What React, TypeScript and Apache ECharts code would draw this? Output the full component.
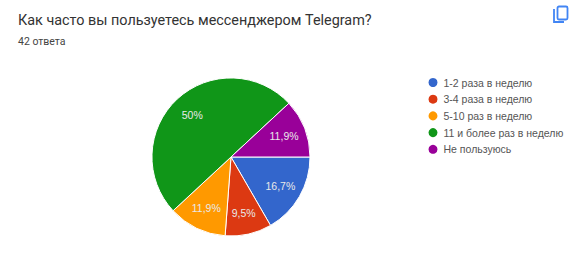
import React, { useEffect, useRef } from "react";
import * as echarts from "echarts";

const titleText = "Как часто вы пользуетесь мессенджером Telegram?";
const subtitleText = "42 ответа";
const categories = ["1-2 раза в неделю", "3-4 раза в неделю", "5-10 раз в неделю", "11 и более раз в неделю", "Не пользуюсь"];
const counts = [7, 4, 5, 21, 5];
const colors = ["#3366cc", "#dc3912", "#ff9900", "#109618", "#990099"];

const FONT = "Roboto, Arial, sans-serif";
const CHART_FONT = "'Liberation Sans', Arial, sans-serif";
const CENTER = [231, 157];

export default function App() {
  const ref = useRef<HTMLDivElement>(null);
  useEffect(() => {
    const chart = echarts.init(ref.current!, undefined, { renderer: "svg" });
    const data = categories.map((name, i) => ({ name, value: counts[i], itemStyle: { color: colors[i] } }));
    const fmt = (p: any) => String(Math.round(p.percent * 10) / 10).replace(".", ",") + "%";
    chart.setOption({
      animation: false,
      backgroundColor: "#ffffff",
      title: [
        { text: titleText, left: 18, top: 13, padding: 0, textStyle: { fontFamily: FONT, fontSize: 14.4, fontWeight: 400, color: "#333333" } },
        { text: subtitleText, left: 18, top: 36, padding: 0, textStyle: { fontFamily: FONT, fontSize: 10.5, fontWeight: 400, color: "#444444" } },
      ],
      legend: {
        orient: "vertical",
        left: 426.5,
        top: 76,
        padding: 0,
        icon: "circle",
        itemWidth: 11,
        itemHeight: 11,
        itemGap: 3.7,
        data: categories,
        selectedMode: false,
        textStyle: { fontFamily: CHART_FONT, fontSize: 10.5, lineHeight: 11, color: "#555555" },
      },
      series: [
        {
          type: "pie",
          startAngle: 0,
          clockwise: true,
          center: CENTER,
          radius: [0, 79],
          data,
          label: { show: false },
          labelLine: { show: false },
          itemStyle: { borderColor: "#ffffff", borderWidth: 1 },
          silent: true,
        },
        {
          type: "pie",
          startAngle: 0,
          clockwise: true,
          center: CENTER,
          radius: [29, 79],
          data: data.map((d) => ({ name: d.name, value: d.value, itemStyle: { color: "transparent" } })),
          label: { show: true, position: "inside", formatter: fmt, fontFamily: CHART_FONT, fontSize: 10.5, color: "#e9e9e9" },
          labelLine: { show: false },
          itemStyle: { borderWidth: 0 },
          silent: true,
        },
      ],
      graphic: [
        { type: "rect", shape: { x: 557.5, y: 6.5, width: 10, height: 13, r: 1.5 }, style: { fill: "none", stroke: "#4285f4", lineWidth: 1.8 } },
        { type: "polyline", shape: { points: [[554, 9], [554, 22], [564, 22]] }, style: { fill: "none", stroke: "#4285f4", lineWidth: 1.8 } },
      ],
    });
    return () => chart.dispose();
  }, []);
  return <div ref={ref} style={{ width: 572, height: 255, position: "fixed", left: 0, top: 0 }} />;
}
